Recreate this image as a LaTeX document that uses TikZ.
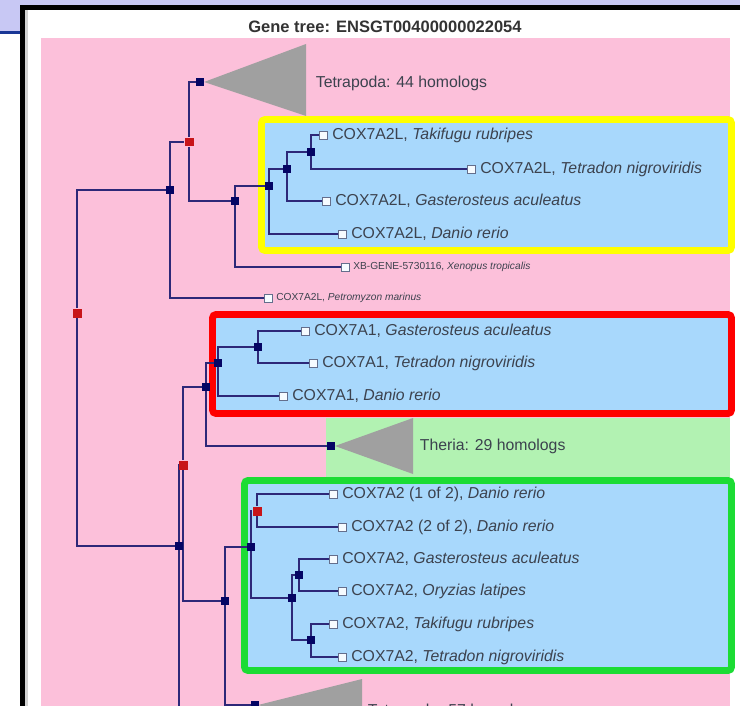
\documentclass[tikz,border=0pt]{standalone}
\usepackage{fontspec}
\setmainfont{Liberation Sans}
\usepackage{xcolor}
\usetikzlibrary{positioning}
\definecolor{slidebg}{RGB}{200,200,244}
\definecolor{slideline}{RGB}{25,55,150}
\definecolor{pinkbg}{RGB}{252,192,218}
\definecolor{theriabg}{RGB}{178,242,178}
\definecolor{geneblue}{RGB}{168,216,252}
\definecolor{yellowedge}{RGB}{255,255,0}
\definecolor{rededge}{RGB}{255,0,0}
\definecolor{greenedge}{RGB}{28,220,52}
\definecolor{treeline}{RGB}{45,40,120}
\definecolor{specnavy}{RGB}{5,5,100}
\definecolor{dupred}{RGB}{200,20,25}
\definecolor{triangray}{RGB}{160,160,160}
\definecolor{labelgray}{RGB}{60,66,78}
\definecolor{leafgray}{RGB}{100,110,140}
\pgfdeclarelayer{panels}
\pgfdeclarelayer{branches}
\pgfsetlayers{panels,branches,main}
\tikzset{
    branch/.style={draw=treeline, line width=1.1pt}, % tree lines
    elbow/.style={to path={|- (\tikztotarget)}}, % vertical first, then across
    spec/.style={rectangle, fill=specnavy, minimum size=0.16cm, inner sep=0pt}, % speciation node
    dup/.style={rectangle, fill=dupred, minimum size=0.18cm, inner sep=0pt}, % duplication node
    leaf/.style={rectangle, draw=leafgray, fill=white!90!geneblue, line width=0.5pt, minimum size=0.16cm, inner sep=0pt},
    gene/.style={font=\fontsize{9}{10}\selectfont, text=labelgray, inner sep=0pt, xshift=0.09cm},
    tinygene/.style={font=\fontsize{5.8}{6}\selectfont, text=labelgray, inner sep=0pt, xshift=0.07cm},
    collapsed/.style={fill=triangray}, % collapsed subtree
    genebox/.style={fill=geneblue, line width=3.9pt, rounded corners=2pt},
}

\begin{document}
\begin{tikzpicture}[x=0.02cm, y=-0.02cm]
\useasboundingbox (0,0) rectangle (740,706);
\clip (0,0) rectangle (740,706);

% slide and frame
\begin{pgfonlayer}{panels}
    \fill[slidebg] (0,0) rectangle (740,8);
    \fill[slidebg] (0,0) rectangle (22,31);
    \fill[slideline] (0,31) rectangle (22,34);
    \fill[white] (22,8) rectangle (740,706);
    \fill[gray!35] (25,10) rectangle (28,706);
    \draw[black, line width=2.8pt] (22.5,706) -- (22.5,7.5) -- (740,7.5);
    \fill[pinkbg] (41,38) rectangle (730,706);
    \fill[theriabg] (326,418) rectangle (730,477);
    \draw[genebox, draw=yellowedge] (261.5,119.5) rectangle (731.5,250.5);
    \draw[genebox, draw=rededge] (212.5,314.5) rectangle (731.5,413.5);
    \draw[genebox, draw=greenedge] (244.5,480.5) rectangle (731.5,670.5);
\end{pgfonlayer}

\node[font=\bfseries\fontsize{9.4}{11}\selectfont, text=black!80] (title) at (385,27) {Gene tree: ENSGT00400000022054};

% upper part
\node[dup] (root) at (77,313) {};
\node[spec] (sA) at (170,190) {};
\node[dup] (dupA) at (189,142) {};
\node[spec] (tetA) at (200,82) {};
\node[spec] (sB) at (235,201) {};
\node[spec] (sC) at (269,186) {};
\node[spec] (sD) at (287,169) {};
\node[spec] (sE) at (311,152) {};
\node[leaf, label={[gene]right:{COX7A2L, \textit{Takifugu rubripes}}}] (lTak) at (323,135) {};
\node[leaf, label={[gene]right:{COX7A2L, \textit{Tetradon nigroviridis}}}] (lTet) at (471,169) {};
\node[leaf, label={[gene]right:{COX7A2L, \textit{Gasterosteus aculeatus}}}] (lGas) at (326,201) {};
\node[leaf, label={[gene]right:{COX7A2L, \textit{Danio rerio}}}] (lDan) at (342,234) {};
\node[leaf, label={[tinygene]right:{XB-GENE-5730116, \textit{Xenopus tropicalis}}}] (lXb) at (345,267) {};
\node[leaf, label={[tinygene]right:{COX7A2L, \textit{Petromyzon marinus}}}] (lPet) at (268,298) {};
\node[gene, anchor=west] (tetAtxt) at (311,83) {Tetrapoda: 44 homologs};

% lower part
\node[spec] (sF) at (179,546) {};
\coordinate (sFend) at (179,720);
\node[dup] (dupB) at (183,465) {};
\node[spec] (sG) at (206,387) {};
\node[spec] (sH) at (218,363) {};
\node[spec] (sI) at (258,347) {};
\node[leaf, label={[gene]right:{COX7A1, \textit{Gasterosteus aculeatus}}}] (mGas) at (305,331) {};
\node[leaf, label={[gene]right:{COX7A1, \textit{Tetradon nigroviridis}}}] (mTet) at (313,363) {};
\node[leaf, label={[gene]right:{COX7A1, \textit{Danio rerio}}}] (mDan) at (283,396) {};
\node[spec] (ther) at (331,446) {};
\node[gene, anchor=west] (therTxt) at (415,446) {Theria: 29 homologs};
\node[spec] (sJ) at (225,601) {};
\node[spec] (sK) at (251,547) {};
\node[dup] (dupC) at (257,511) {};
\node[leaf, label={[gene]right:{COX7A2 (1 of 2), \textit{Danio rerio}}}] (kD1) at (333,494) {};
\node[leaf, label={[gene]right:{COX7A2 (2 of 2), \textit{Danio rerio}}}] (kD2) at (342,527) {};
\node[spec] (sL) at (292,598) {};
\node[spec] (sM) at (299,575) {};
\node[spec] (sN) at (311,640) {};
\node[leaf, label={[gene]right:{COX7A2, \textit{Gasterosteus aculeatus}}}] (kGas) at (333,559) {};
\node[leaf, label={[gene]right:{COX7A2, \textit{Oryzias latipes}}}] (kOry) at (342,591) {};
\node[leaf, label={[gene]right:{COX7A2, \textit{Takifugu rubripes}}}] (kTak) at (333,624) {};
\node[leaf, label={[gene]right:{COX7A2, \textit{Tetradon nigroviridis}}}] (kTet) at (342,657) {};
\node[spec] (tetB) at (255,705) {};
\node[gene, anchor=west] (tetBtxt) at (363,711) {Tetrapoda: 57 homologs};

\begin{pgfonlayer}{branches}
    \fill[collapsed] (204,82) -- (306,44) -- (306,116) -- cycle;
    \fill[collapsed] (335,446) -- (413,418) -- (413,474) -- cycle;
    \fill[collapsed] (258,705) -- (362,679) -- (362,731) -- cycle;
    \path[branch]
        (root) edge[elbow] (sA)
               edge[elbow] (sF)
        (sA) edge[elbow] (dupA)
             edge[elbow] (lPet)
        (dupA) edge[elbow] (tetA)
               edge[elbow] (sB)
        (sB) edge[elbow] (sC)
             edge[elbow] (lXb)
        (sC) edge[elbow] (sD)
             edge[elbow] (lDan)
        (sD) edge[elbow] (sE)
             edge[elbow] (lGas)
        (sE) edge[elbow] (lTak)
             edge[elbow] (lTet)
        (sF) edge[elbow] (dupB)
             edge (sFend)
        (dupB) edge[elbow] (sG)
               edge[elbow] (sJ)
        (sG) edge[elbow] (sH)
             edge[elbow] (ther)
        (sH) edge[elbow] (sI)
             edge[elbow] (mDan)
        (sI) edge[elbow] (mGas)
             edge[elbow] (mTet)
        (sJ) edge[elbow] (sK)
             edge[elbow] (tetB)
        (sK) edge[elbow] (dupC)
             edge[elbow] (sL)
        (dupC) edge[elbow] (kD1)
               edge[elbow] (kD2)
        (sL) edge[elbow] (sM)
             edge[elbow] (sN)
        (sM) edge[elbow] (kGas)
             edge[elbow] (kOry)
        (sN) edge[elbow] (kTak)
             edge[elbow] (kTet);
\end{pgfonlayer}
\end{tikzpicture}
\end{document}
